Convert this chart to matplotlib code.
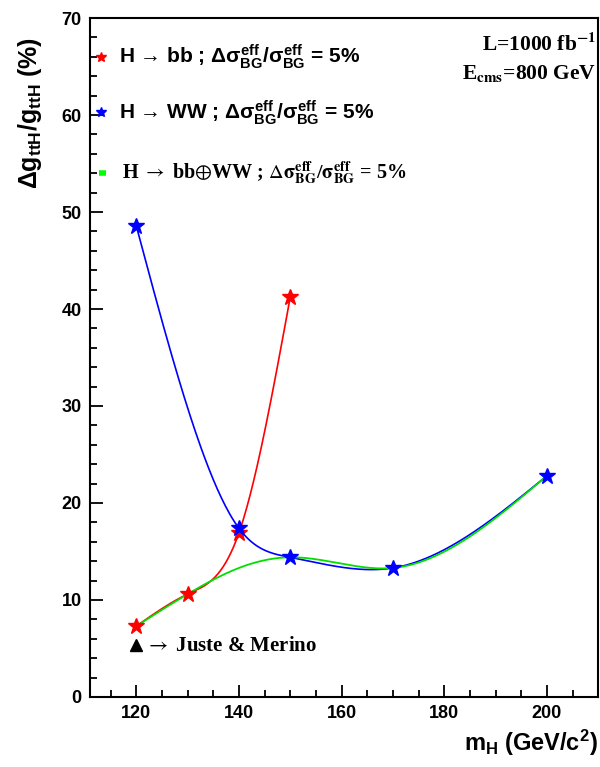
import numpy as np
import matplotlib
matplotlib.use("Agg")
import matplotlib.pyplot as plt
from matplotlib.font_manager import FontProperties

plt.rcParams['mathtext.fontset'] = 'custom'
plt.rcParams['mathtext.rm'] = 'Liberation Sans:bold'
plt.rcParams['mathtext.it'] = 'Liberation Sans:bold'
plt.rcParams['mathtext.bf'] = 'Liberation Sans:bold'
plt.rcParams['mathtext.sf'] = 'Liberation Sans:bold'
plt.rcParams['mathtext.fallback'] = 'stix'

# data
mh_bb = [120, 130, 140, 150]
dg_bb = [7.3, 10.6, 16.9, 41.2]

mh_ww = [120, 140, 150, 170, 200]
dg_ww = [48.6, 17.4, 14.4, 13.3, 22.8]

mh_comb = [120, 130, 140, 150, 170, 200]
dg_comb = [7.3, 10.6, 13.3, 14.4, 13.3, 22.8]

juste_mh = [120]
juste_dg = [5.4]


def natural_spline(x, y, n=300):
    x = np.asarray(x, float)
    y = np.asarray(y, float)
    k = len(x)
    h = np.diff(x)
    A = np.zeros((k, k))
    r = np.zeros(k)
    A[0, 0] = A[-1, -1] = 1.0
    for i in range(1, k - 1):
        A[i, i - 1] = h[i - 1]
        A[i, i] = 2 * (h[i - 1] + h[i])
        A[i, i + 1] = h[i]
        r[i] = 6 * ((y[i + 1] - y[i]) / h[i] - (y[i] - y[i - 1]) / h[i - 1])
    m = np.linalg.solve(A, r)
    xs = np.linspace(x[0], x[-1], n)
    idx = np.clip(np.searchsorted(x, xs) - 1, 0, k - 2)
    x0, x1 = x[idx], x[idx + 1]
    hh = x1 - x0
    t0 = x1 - xs
    t1 = xs - x0
    ys = (m[idx] * t0**3 + m[idx + 1] * t1**3) / (6 * hh) \
        + (y[idx] / hh - m[idx] * hh / 6) * t0 \
        + (y[idx + 1] / hh - m[idx + 1] * hh / 6) * t1
    return xs, ys


fig = plt.figure(figsize=(6, 7.67), dpi=100)
ax = fig.add_axes([0.15, 0.0913, 0.847, 0.8852])

xs, ys = natural_spline(mh_bb, dg_bb)
ax.plot(xs, ys, color='red', lw=1.2, zorder=2)
xs, ys = natural_spline(mh_ww, dg_ww)
ax.plot(xs, ys, color='blue', lw=1.2, zorder=2)
xs, ys = natural_spline(mh_comb, dg_comb)
ax.plot(xs, ys, color='#00e000', lw=1.3, zorder=3)

ax.plot(mh_bb, dg_bb, ls='none', marker='*', ms=12, color='red',
        mec='red', zorder=4)
ax.plot(mh_ww, dg_ww, ls='none', marker='*', ms=12, color='blue',
        mec='blue', zorder=5)

ax.set_xlim(111, 210)
ax.set_ylim(0, 70)
ax.set_xticks([120, 140, 160, 180, 200])
ax.set_xticks(np.arange(115, 210, 5), minor=True)
ax.set_yticks(np.arange(0, 71, 10))
ax.set_yticks(np.arange(0, 71, 2), minor=True)
ax.tick_params(which='both', direction='in', top=False, right=False)
ax.tick_params(which='major', length=9, width=1.3)
ax.tick_params(which='minor', length=5, width=1.3)
ax.tick_params(axis='both', labelsize=13, pad=6)
for lab in ax.get_xticklabels() + ax.get_yticklabels():
    lab.set_fontfamily('Liberation Sans')
    lab.set_fontweight('bold')
for sp in ax.spines.values():
    sp.set_linewidth(1.5)

fig.text(0.05, 0.952, r'$\Delta g_{ttH}/g_{ttH}$ (%)', rotation=90,
         ha='center', va='top', fontsize=18, family='Liberation Sans',
         weight='bold')
fig.text(0.997, 0.012, r'$m_H$ (GeV/c$^2$)', ha='right', va='bottom',
         fontsize=17, family='Liberation Sans', weight='bold')

# legend entries
tr = ax.transAxes
sans = ['Liberation Sans', 'DejaVu Sans']
ax.plot([0.022], [0.943], transform=tr, ls='none', marker='*', ms=7,
        color='red', clip_on=False)
ax.plot([0.022], [0.861], transform=tr, ls='none', marker='*', ms=7,
        color='blue', clip_on=False)
ax.plot([0.018, 0.032], [0.772, 0.772], transform=tr, color='#00ff00',
        lw=4, solid_capstyle='butt')
ax.text(0.058, 0.943, 'H \u2192 bb ; $\\Delta\\sigma^{eff}_{BG}/\\sigma^{eff}_{BG}$ = 5%',
        transform=tr, va='center', ha='left', fontsize=15,
        family=sans, weight='bold')
ax.text(0.058, 0.861, 'H \u2192 WW ; $\\Delta\\sigma^{eff}_{BG}/\\sigma^{eff}_{BG}$ = 5%',
        transform=tr, va='center', ha='left', fontsize=15,
        family=sans, weight='bold')
serif = FontProperties(family='Liberation Serif', weight='bold', size=14.5,
                       math_fontfamily='stix')
ax.text(0.062, 0.772,
        r'H $\rightarrow$ bb$\oplus$WW ; $\Delta\mathbf{\sigma}^{\mathbf{eff}}_{\mathbf{BG}}/\mathbf{\sigma}^{\mathbf{eff}}_{\mathbf{BG}}$ = 5%',
        transform=tr, va='center', ha='left', fontproperties=serif)

tfp = FontProperties(family='Liberation Serif', weight='bold', size=15.5,
                     math_fontfamily='stix')
ax.text(0.997, 0.961, r'L=1000 fb$^{\mathbf{-1}}$', transform=tr, ha='right',
        va='center', fontproperties=tfp)
ax.text(0.997, 0.918, r'E$_{\mathbf{cms}}$=800 GeV', transform=tr, ha='right',
        va='center', fontproperties=tfp)

jfp = FontProperties(family='Liberation Serif', weight='bold', size=15,
                     math_fontfamily='stix')
ax.plot(juste_mh, juste_dg, ls='none', marker='^', ms=9, color='black')
ax.text(121.8, juste_dg[0] - 0.1, r'$\rightarrow$ Juste & Merino',
        ha='left', va='center', fontproperties=jfp)

fig.savefig('out.png', dpi=100)
